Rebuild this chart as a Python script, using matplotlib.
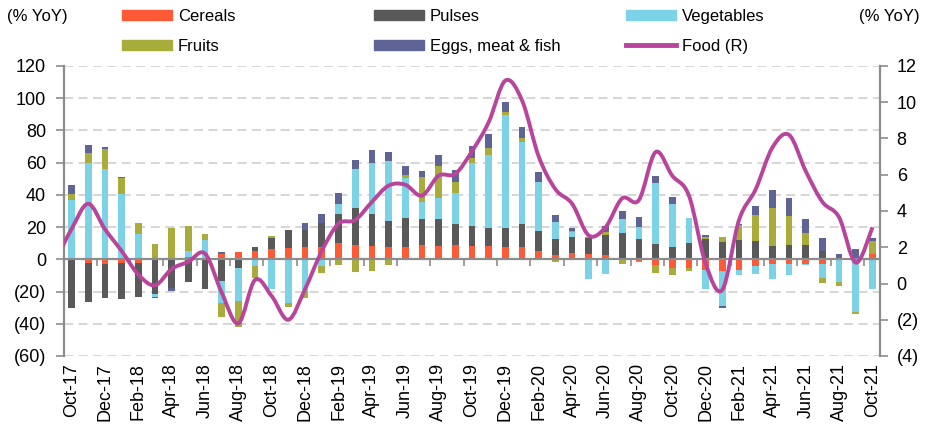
#!/usr/bin/env python3
"""
Stacked contributions to food inflation (% YoY) with the food index on the right axis.

Bars: positive and negative parts stacked separately (Excel style).
Line: Food (R), drawn as a smoothed curve on the secondary axis.
"""

import numpy as np
import pandas as pd
import matplotlib
matplotlib.use("Agg")
import matplotlib.pyplot as plt
from matplotlib.path import Path
from matplotlib.patches import PathPatch, Patch
from matplotlib.lines import Line2D


# Oct-17 .. Oct-21, one bar per month
months = pd.date_range("2017-10-01", "2021-10-01", freq="MS").strftime("%b-%y").tolist()

cereals = [0, -2, -3.1, -2, -2.5, 0, 0, 1.4, 1, 3.3, 4.7, 5.2, 6.2, 7.0, 7.8, 7.8,
           9.9, 8.9, 8.5, 7.6, 7.8, 8.7, 8.5, 8.7, 8.2, 8.2, 7.6, 7.6, 5.2, 2.7, 3.7,
           3.3, 2.7, 0.6, -1, -3.5, -5.2, -5.6, -6.6, -7.2, -6.6, -4.1, -3.1, -2.7,
           -2.7, -2.7, 0, 1.0, 3.1]
pulses = [-30.5, -24.5, -20.6, -22.5, -21.0, -21.6, -17.5, -14.2, -18.5, -13.4, -5.4,
          2.3, 7.2, 10.9, 10.7, 14.8, 18.1, 23.1, 19.6, 16.3, 17.9, 16.3, 16.5, 13.0,
          12.6, 11.3, 12.0, 14.6, 12.4, 9.9, 9.9, 10.1, 12.5, 15.9, 12.6, 9.5, 7.4,
          9.9, 12.6, 10.5, 12.0, 11.3, 8.5, 9.1, 9.1, 5.4, 0, 0, 0]
vegetables = [36.7, 59.8, 56.3, 40.6, 15.5, -1.9, 0, 3.7, 10.7, -13.8, -20.2, -4.1,
              -18.6, -26.8, -19.4, -4.1, 6.6, 23.9, 31.5, 36.9, 24.9, 10.7, 13.2, 19.6,
              39.2, 45.0, 69.7, 50.9, 30.1, 10.7, 3.3, -12.2, -9.3, 8.5, 7.6, 38.1,
              26.8, 15.7, -12.0, -21.6, -3.1, -5.2, -9.1, -7.2, -0.6, -8.7, -14.0,
              -32.8, -18.6]
fruits = [3.7, 6.2, 12.0, 10.1, 7.0, 9.3, 19.6, 15.7, 3.8, -8.7, -16.1, -7.6, 1.0,
          -2.5, -4.9, -4.5, -3.5, -7.6, -7.0, -3.7, 1.6, 15.3, 19.6, 6.6, 2.9, 4.5,
          2.1, 1.9, 0, -1.9, 0.6, 0.6, 1.6, -3.1, -0.5, -4.7, -4.3, -1.4, 1.5, 3.1,
          9.3, 16.5, 23.5, 18.1, 7.2, -3.5, -2.3, -1.2, 8.0]
eggs_meat_fish = [6.0, 5.0, 1.6, 0.4, 0, -0.8, -2.0, 0, 0, 1.0, 0, 0, 0, 0, 4.3, 5.4,
                  6.8, 6.0, 8.0, 5.6, 5.8, 3.7, 6.8, 7.4, 7.2, 8.5, 6.4, 7.4, 6.8, 4.1,
                  2.1, 0, 4.1, 5.2, 6.0, 4.1, 4.3, 0, 1.2, -1.6, 0.6, 5.4, 10.9, 10.9,
                  8.7, 7.8, 3.5, 5.2, 2.1]

# Food (R) starts one month earlier (Sep-17); that point sits left of the plot and is clipped
food_start = -1
food = [1.2, 3.0, 4.4, 3.0, 1.8, 0.5, -0.1, 0.8, 1.2, 1.65, -0.5, -2.2, 0.2, -0.7,
        -2.0, -0.3, 1.8, 3.3, 3.5, 4.5, 5.4, 5.45, 4.85, 5.95, 6.05, 7.3, 8.9, 11.2,
        10.1, 7.0, 5.2, 4.4, 2.65, 3.1, 4.7, 4.6, 7.25, 5.95, 4.85, 1.1, -0.35, 3.5,
        5.2, 7.5, 8.2, 6.2, 4.5, 3.65, 1.15, 3.1]

SERIES = [
    ("Cereals", cereals, "#FF5A36"),
    ("Pulses", pulses, "#595959"),
    ("Vegetables", vegetables, "#7CD3E8"),
    ("Fruits", fruits, "#A8AC3A"),
    ("Eggs, meat & fish", eggs_meat_fish, "#5E6496"),
]
FOOD_COLOR = "#B8449B"
AXIS_GRAY = "#8C8C8C"
GRID_GRAY = "#D3D3D3"


def smooth_path(xs, ys):
    # Excel-like smoothed line: cubic Bezier segments through every data point
    pts = np.column_stack([xs, ys]).astype(float)
    n = len(pts)
    verts = [pts[0]]
    codes = [Path.MOVETO]
    for i in range(n - 1):
        p0 = pts[i - 1] if i > 0 else pts[i]
        p1, p2 = pts[i], pts[i + 1]
        p3 = pts[i + 2] if i + 2 < n else pts[i + 1]
        verts += [p1 + (p2 - p0) / 6.0, p2 - (p3 - p1) / 6.0, p2]
        codes += [Path.CURVE4] * 3
    return Path(verts, codes)


def paren(v):
    return f"({abs(v):g})" if v < 0 else f"{v:g}"


def main():
    plt.rcParams["font.family"] = ["Liberation Sans", "DejaVu Sans"]
    plt.rcParams["font.size"] = 12

    fig = plt.figure(figsize=(9.35, 4.26), dpi=100)
    ax = fig.add_axes([64 / 935, 70 / 426, 816 / 935, 290 / 426])

    x = np.arange(len(months))
    pos_bottom = np.zeros(len(months))
    neg_bottom = np.zeros(len(months))
    for name, vals, color in SERIES:
        v = np.asarray(vals, dtype=float)
        pos = np.where(v > 0, v, 0)
        neg = np.where(v < 0, v, 0)
        ax.bar(x, pos, bottom=pos_bottom, width=0.4, color=color, zorder=2)
        ax.bar(x, neg, bottom=neg_bottom, width=0.4, color=color, zorder=2)
        pos_bottom += pos
        neg_bottom += neg

    ax.set_xlim(-0.45, len(months) - 0.55)
    ax.set_ylim(-60, 120)
    yt = np.arange(-60, 121, 20)
    ax.set_yticks(yt)
    ax.set_yticklabels([paren(v) for v in yt])
    ax.set_xticks(x[::2])
    ax.set_xticklabels(months[::2], rotation=90)
    ax.tick_params(axis="x", length=0, pad=5, labelsize=13)
    ax.tick_params(axis="y", direction="out", length=6, width=1.2, color=AXIS_GRAY,
                   pad=7, labelsize=13)

    ax.set_axisbelow(True)
    ax.yaxis.grid(True, color=GRID_GRAY, linestyle=(0, (5, 3)), linewidth=1.3)
    for side in ("top", "bottom", "right"):
        ax.spines[side].set_visible(False)
    ax.spines["left"].set_color(AXIS_GRAY)
    ax.spines["left"].set_linewidth(1.6)

    # category axis crosses at zero, tick marks between every second pair of bars
    ax.axhline(0, color=AXIS_GRAY, linewidth=1.6, zorder=3)
    zero_axis = ax.secondary_xaxis(60 / 180)
    zero_axis.set_xticks(np.arange(1.5, len(months), 2))
    zero_axis.tick_params(direction="out", length=5, width=1.2, color=AXIS_GRAY,
                          labelbottom=False, labeltop=False)
    for sp in zero_axis.spines.values():
        sp.set_visible(False)

    # right axis: Food (R)
    ax2 = ax.twinx()
    ax2.set_ylim(-4, 12)
    yt2 = np.arange(-4, 13, 2)
    ax2.set_yticks(yt2)
    ax2.set_yticklabels([paren(v) for v in yt2])
    ax2.tick_params(axis="y", direction="out", length=6, width=1.2, color=AXIS_GRAY,
                    pad=6, labelsize=13)
    for side in ("top", "bottom", "left"):
        ax2.spines[side].set_visible(False)
    ax2.spines["right"].set_color(AXIS_GRAY)
    ax2.spines["right"].set_linewidth(1.6)

    food_x = np.arange(food_start, food_start + len(food))
    ax2.add_patch(PathPatch(smooth_path(food_x, food), fill=False,
                            edgecolor=FOOD_COLOR, linewidth=2.8, zorder=4))
    ax2.set_xlim(ax.get_xlim())
    ax2.set_ylim(-4, 12)

    fig.text(7 / 935, 1 - 17 / 426, "(% YoY)", ha="left", va="center")
    fig.text(920 / 935, 1 - 17 / 426, "(% YoY)", ha="right", va="center")

    # legend: three columns of two rows each, placed above the plot
    handles = [Patch(color=c, label=n) for n, _, c in SERIES]
    handles.append(Line2D([0], [0], color=FOOD_COLOR, linewidth=3.5, label="Food (R)"))
    columns = [(handles[0], handles[3]), (handles[1], handles[4]), (handles[2], handles[5])]
    col_left = [122, 374, 626]
    for hs, left in zip(columns, col_left):
        fig.legend(handles=list(hs), loc="upper left", bbox_to_anchor=(left / 935, 1 - 9 / 426),
                   frameon=False, borderpad=0, borderaxespad=0, handlelength=3.0,
                   handleheight=0.6, handletextpad=0.35, labelspacing=0.88, fontsize=12)

    fig.savefig("out.png", dpi=100)


if __name__ == "__main__":
    main()
